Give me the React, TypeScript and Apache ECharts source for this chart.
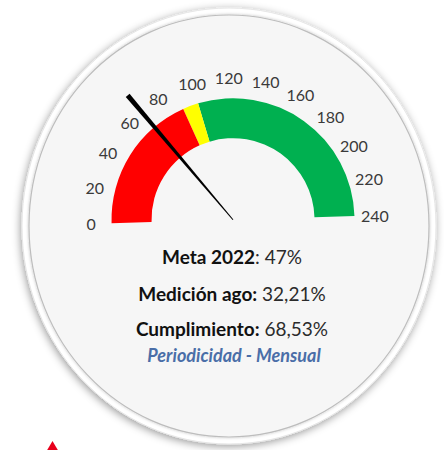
import React, { useEffect, useRef } from 'react';
import * as echarts from 'echarts';

// ---- data ----
const gaugeMin = 0;
const gaugeMax = 240;
const gaugeSplits = 12;
const bandEnds = [90, 100, 240];
const bandColors = ['#ff0000', '#ffff00', '#00b050'];
const needleValue = 68.53;
const infoLabels = ['Meta 2022', 'Medición ago:', 'Cumplimiento:'];
const infoValues = [': 47%', ' 32,21%', ' 68,53%'];
const periodText = 'Periodicidad - Mensual';

const FONT = 'Lato, "Open Sans", sans-serif';

export default function App() {
  const ref = useRef<HTMLDivElement>(null);

  useEffect(() => {
    if (!ref.current) return;
    const chart = echarts.init(ref.current, undefined, { renderer: 'svg' });

    const lineYs = [256, 293, 328];
    const infoTexts = infoLabels.map((lab, i) => ({
      type: 'text',
      x: 232,
      y: lineYs[i],
      z: 10,
      style: {
        text: `{b|${lab}}{r|${infoValues[i]}}`,
        align: 'center',
        verticalAlign: 'middle',
        rich: {
          b: { fontFamily: FONT, fontWeight: 'bold', fontSize: 19, fill: '#111111' },
          r: { fontFamily: FONT, fontWeight: 'normal', fontSize: 19, fill: '#2b2b2b' },
        },
      },
    }));

    chart.setOption({
      animation: false,
      backgroundColor: '#ffffff',
      graphic: [
        {
          type: 'ellipse',
          z: 0,
          shape: { cx: 229, cy: 226, rx: 207, ry: 218 },
          style: {
            fill: '#ffffff',
            stroke: '#e6e6e6',
            lineWidth: 1,
            shadowBlur: 8,
            shadowColor: 'rgba(0,0,0,0.4)',
            shadowOffsetX: -1,
            shadowOffsetY: 2,
          },
        },
        {
          type: 'ellipse',
          z: 1,
          shape: { cx: 229, cy: 226, rx: 200, ry: 211 },
          style: {
            fill: '#f6f6f6',
            stroke: '#bdbdbd',
            lineWidth: 1.2,
            shadowBlur: 3,
            shadowColor: 'rgba(0,0,0,0.25)',
          },
        },
        ...infoTexts,
        {
          type: 'text',
          x: 234,
          y: 355,
          z: 10,
          style: {
            text: periodText,
            align: 'center',
            verticalAlign: 'middle',
            fontFamily: FONT,
            fontWeight: 'bold',
            fontStyle: 'italic',
            fontSize: 18,
            fill: '#4a6ea8',
          },
        },
        {
          type: 'polygon',
          z: 10,
          shape: { points: [[52.5, 441], [46, 452], [59, 452]] },
          style: { fill: '#e8001c' },
        },
      ],
      series: [
        {
          type: 'gauge',
          z: 5,
          center: [233, 219.7],
          radius: 121.5,
          startAngle: 181.7,
          endAngle: 1.7,
          min: gaugeMin,
          max: gaugeMax,
          splitNumber: gaugeSplits,
          axisLine: {
            lineStyle: {
              width: 40,
              color: bandEnds.map((v, i) => [v / gaugeMax, bandColors[i]]),
            },
          },
          axisTick: { show: false },
          splitLine: { show: false, length: 0, distance: 0 },
          axisLabel: {
            distance: -20.5,
            rotate: 0.0001,
            color: '#3a3a3a',
            fontSize: 16,
            fontFamily: FONT,
          },
          pointer: {
            show: true,
            icon: 'path://M0,0 L10,0 L6,100 L4,100 Z',
            length: '134%',
            width: 5,
            offsetCenter: [0, 0],
            itemStyle: { color: '#000000' },
          },
          anchor: { show: false },
          title: { show: false },
          detail: { show: false },
          data: [{ value: needleValue }],
        },
      ],
    });

    return () => chart.dispose();
  }, []);

  return (
    <div
      ref={ref}
      style={{ position: 'fixed', left: 0, top: 0, width: 444, height: 450 }}
    />
  );
}
